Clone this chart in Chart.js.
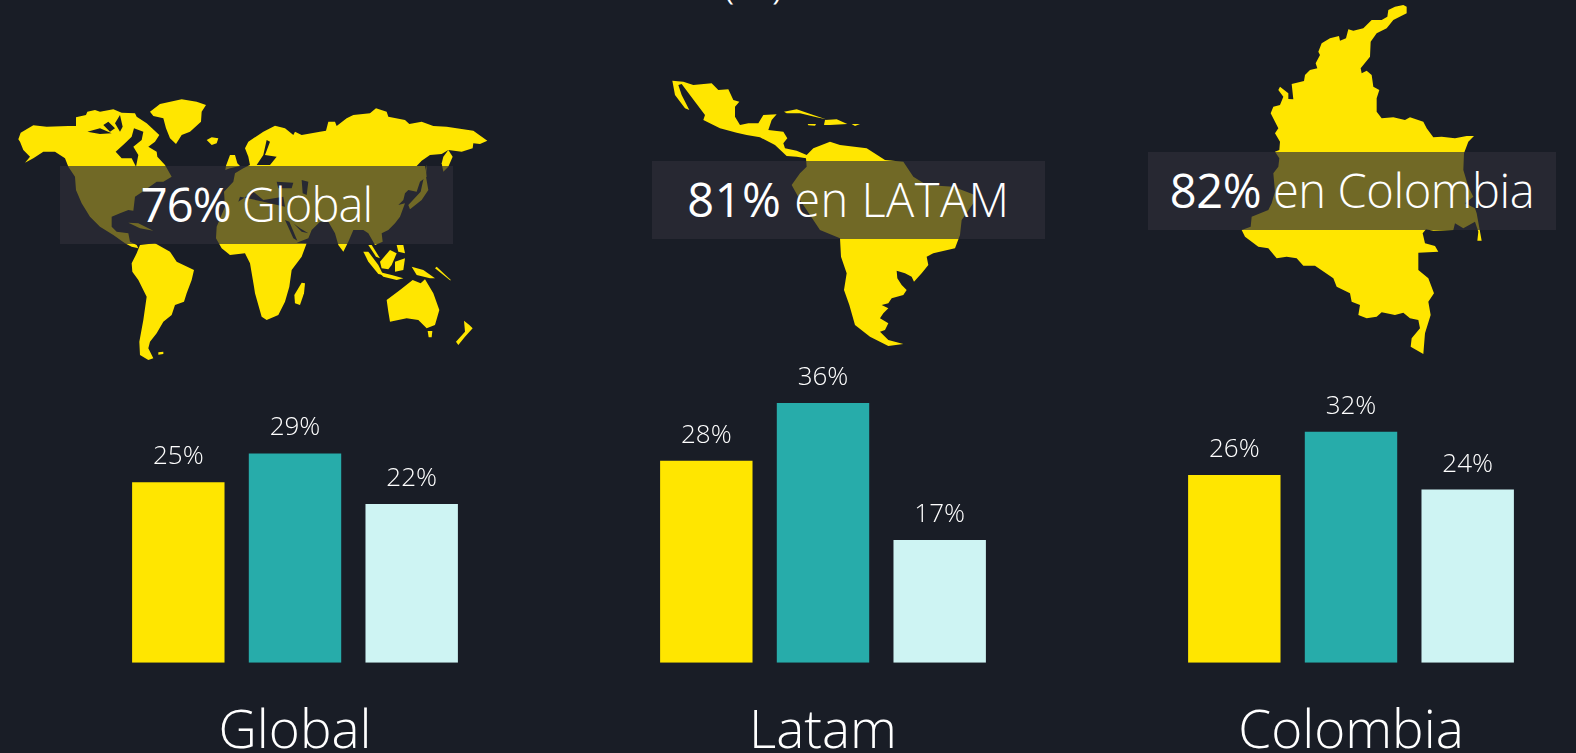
<!DOCTYPE html>
<html>
<head>
<meta charset="utf-8">
<script src="https://cdn.jsdelivr.net/npm/chart.js@4"></script>
<style>
    html, body { margin: 0; height: 100%; background: #191d26; overflow: hidden; }
    #wrap { position: relative; width: 1576px; height: 753px; overflow: hidden; }
    #maps { position: absolute; left: 0; top: 0; }
    #chartBox { position: absolute; left: 0; top: 0; width: 1640px; height: 753px; }
    #topText {
        position: absolute; left: 722px; top: -44px; line-height: 46px; color: #fff; white-space: nowrap;
        font-family: "Open Sans", sans-serif; font-weight: 300; font-size: 46px;
    }
    .banner {
        position: absolute; height: 78px; line-height: 76px; text-align: center;
        background: rgba(46, 46, 56, 0.68); color: #fff; white-space: nowrap;
        font-family: "Open Sans", sans-serif; font-weight: 300; font-size: 47px;
    }
    .banner b { font-weight: 500; }
</style>
</head>
<body>
<div id="wrap">
    <div id="topText">(%).</div>
    <svg id="maps" width="1576" height="753" fill="#ffe600" fill-rule="evenodd">
        <g transform="scale(0.33333)">
            <path d="M55 418L62 398L100 376L140 380L205 378L228 378L228 352L258 345L262 335L285 330L300 335L340 328L365 338L405 340L410 350L440 370L478 405L465 425L445 440L470 455L472 470L495 495L515 530L490 545L470 545L435 570L405 590L400 632L385 630L360 640L335 650L335 680L350 695L385 700L390 725L410 735L415 745L395 740L375 730L340 705L300 680L270 650L245 610L228 570L225 530L205 500L195 475L165 455L130 455L100 475L75 488L90 470L70 450L60 425Z
                M347 455L375 430L395 410L402 385L430 395L425 420L400 440L415 465L408 500L395 475L365 475Z
                M262 395L300 385L335 400L300 402Z M310 375L325 365L345 385L330 395Z M345 370L360 345L368 380L360 395Z"/>
            <path d="M450 335L480 312L545 298L590 305L618 315L605 335L603 365L570 395L545 405L528 432L510 415L498 385L490 355L460 348Z"/>
            <path d="M620 420L635 412L655 415L650 430L635 435Z"/>
            <path d="M678 497L690 465L705 465L712 490L720 498L690 505L676 510Z"/>
            <path d="M735 445L745 425L790 395L825 377L855 385L880 405L885 395L905 405L960 395L978 392L985 365L1005 365L1010 378L1040 355L1060 345L1110 340L1128 325L1160 335L1165 350L1215 360L1228 372L1265 365L1300 378L1340 380L1420 392L1462 422L1440 432L1420 430L1418 445L1385 455L1345 450L1325 462L1290 465L1265 482L1250 498L1275 498L1280 530L1260 545L1250 575L1225 570L1215 580L1210 600L1195 615L1215 610L1200 650L1185 670L1165 690L1145 700L1148 725L1125 735L1105 700L1090 690L1060 690L1045 725L1030 755L1015 735L1005 700L985 665L960 665L935 690L925 715L890 728L920 730L905 770L875 810L868 860L855 905L835 945L800 960L785 950L765 880L762 860L750 790L735 760L690 765L665 745L648 715L650 680L675 620L672 575L700 545L705 520L730 505L750 495L745 470Z
                M800 420L810 425L795 465L830 470L810 495L770 495L790 465Z
                M715 605L760 575L790 600L850 590L855 620L790 605L720 590Z
                M830 545L880 548L875 565L835 565Z M905 540L925 545L920 585L908 580Z
                M855 660L868 665L892 722L880 715Z M880 670L900 685L925 700L905 695Z"/>
            <path d="M397 815L395 790L410 760L420 735L465 730L510 755L530 785L582 810L575 840L560 880L552 905L525 915L515 945L490 965L470 1000L450 1025L445 1045L460 1075L445 1080L420 1065L418 1025L430 960L440 890L415 840Z"/>
            <path d="M475 1057L490 1055L490 1062L475 1064Z"/>
            <path d="M905 848L915 850L912 880L900 915L885 910L883 885Z"/>
            <path d="M1160 900L1200 870L1238 840L1262 850L1275 838L1300 880L1318 930L1305 975L1280 985L1255 960L1220 955L1170 965L1165 935Z"/>
            <path d="M1283 993L1297 993L1295 1012L1286 1012Z"/>
            <path d="M1392 962L1408 975L1418 985L1395 1010L1375 1035L1368 1025L1395 995Z"/>
            <path d="M1090 755L1105 755L1135 795L1150 825L1135 822L1105 785Z"/>
            <path d="M1135 815L1175 825L1210 835L1190 840L1150 830Z"/>
            <path d="M1140 785L1170 750L1190 760L1175 795L1165 808L1145 805Z"/>
            <path d="M1185 785L1215 775L1210 810L1185 815Z"/>
            <path d="M1235 800L1270 810L1305 835L1290 835L1250 825Z"/>
            <path d="M1190 735L1210 735L1215 760L1195 755Z"/>
            <path d="M1105 735L1115 735L1140 775L1128 770Z"/>
            <path d="M1280 495L1278 530L1285 570L1265 600L1230 628L1225 615L1262 575L1272 530Z"/>
            <path d="M1345 450L1358 470L1345 500L1330 515L1325 490L1330 470Z"/>
            <path d="M385 668L415 670L460 692L420 685Z"/>
            <path d="M1310 800L1350 838L1352 842L1305 805Z"/>
        </g>
        <g transform="translate(640 60) scale(0.33333)">
            <path d="M97 62L130 65L160 75L215 70L235 90L265 88L280 120L298 125L285 140L285 170L300 195L325 190L355 190L370 165L410 163L395 180L385 210L430 215L442 235L430 250L435 265L470 272L500 285L520 265L570 245L600 255L680 265L735 300L790 305L820 350L860 375L940 380L1005 405L1000 430L965 480L960 525L945 565L880 580L860 590L865 615L845 640L822 665L815 650L795 640L770 632L772 655L785 675L800 690L790 705L755 715L745 730L725 735L745 745L730 760L720 775L745 790L735 810L720 815L745 840L790 852L745 858L690 830L645 795L628 735L612 690L620 640L603 590L600 535L540 510L480 420L455 375L480 340L500 320L498 295L470 290L440 288L405 255L360 232L320 225L290 218L240 205L190 180L195 165L165 125L125 72L115 75L125 105L148 150L135 145L105 105Z"/>
            <path d="M432 155L470 148L520 165L558 178L530 172L480 160L440 160Z"/>
            <path d="M555 180L590 178L622 192L570 195L552 195Z"/>
            <path d="M503 192L528 192L525 197L505 196Z"/>
            <path d="M635 192L660 192L645 198Z"/>
        </g>
        <g transform="translate(1140 0) scale(0.33333)">
            <path d="M800 20L790 15L765 20L745 30L742 50L725 60L695 60L670 85L640 92L625 88L618 115L600 122L597 108L570 115L545 130L535 155L540 165L527 190L532 205L510 210L495 225L492 243L455 252L460 298L445 297L445 280L420 260L415 270L430 290L420 315L400 320L392 340L415 385L405 400L420 425L418 450L405 455L418 475L415 500L400 520L405 575L395 610L385 630L335 650L332 680L305 690L315 710L355 740L385 745L410 775L440 770L470 775L490 797L525 797L580 835L590 860L630 880L635 905L660 915L655 945L680 955L710 950L725 937L765 945L790 938L810 955L835 960L840 985L815 1015L812 1040L850 1062L855 1000L872 945L865 905L882 880L865 835L835 810L835 758L895 755L885 738L855 730L848 700L858 688L880 692L940 690L945 670L970 685L1005 665L1015 695L1012 722L1025 722L1010 640L1005 625L975 610L1000 590L985 560L970 510L972 460L985 425L1002 408L980 408L945 415L905 410L880 412L860 385L850 365L810 352L795 360L760 352L725 355L710 335L710 295L718 270L700 260L695 225L680 212L665 220L662 205L690 170L692 125L710 100L740 85L760 60L800 40Z"/>
        </g>
    </svg>
    <div class="banner" style="left:60px;top:166px;width:393px;letter-spacing:-0.9px"><b>76%</b> Global</div>
    <div class="banner" style="left:652px;top:161px;width:393px;letter-spacing:0.5px"><b>81%</b> en LATAM</div>
    <div class="banner" style="left:1148px;top:152px;width:408px;letter-spacing:-0.4px"><b>82%</b> en Colombia</div>
    <div id="chartBox"><canvas id="barChart"></canvas></div>
</div>
<script>
const regions = ['Global', 'Latam', 'Colombia'];
const firstBar = [25, 28, 26];
const secondBar = [29, 36, 32];
const thirdBar = [22, 17, 24];
const barColors = ['#ffe600', '#27acaa', '#cef4f3'];

// percent labels above each bar
const valueLabels = {
    id: 'valueLabels',
    afterDatasetsDraw(chart) {
        const ctx = chart.ctx;
        ctx.save();
        ctx.font = '300 26px "Open Sans", sans-serif';
        ctx.fillStyle = '#ffffff';
        ctx.textAlign = 'center';
        ctx.textBaseline = 'alphabetic';
        chart.data.datasets.forEach((ds, i) => {
            chart.getDatasetMeta(i).data.forEach((bar, j) => {
                ctx.fillText(ds.data[j] + '%', bar.x, bar.y - 18);
            });
        });
        ctx.restore();
    }
};

const ctx = document.getElementById('barChart').getContext('2d');
new Chart(ctx, {
    type: 'bar',
    data: {
        labels: regions,
        datasets: [firstBar, secondBar, thirdBar].map((values, i) => ({
            data: values,
            backgroundColor: barColors[i],
            categoryPercentage: 0.663,
            barPercentage: 0.792
        }))
    },
    options: {
        responsive: true,
        maintainAspectRatio: false,
        animation: false,
        layout: { padding: { left: 31, right: 25, top: 0, bottom: 0 } },
        plugins: { legend: { display: false }, tooltip: { enabled: false } },
        scales: {
            x: {
                grid: { display: false },
                border: { display: false },
                afterFit(scale) { scale.height = 90.3; },
                ticks: {
                    color: '#ffffff',
                    padding: 30,
                    maxRotation: 0,
                    font: { family: '"Open Sans", sans-serif', size: 53, weight: '300' }
                }
            },
            y: {
                display: false,
                min: 0,
                max: 91.85
            }
        }
    },
    plugins: [valueLabels]
});
</script>
</body>
</html>
